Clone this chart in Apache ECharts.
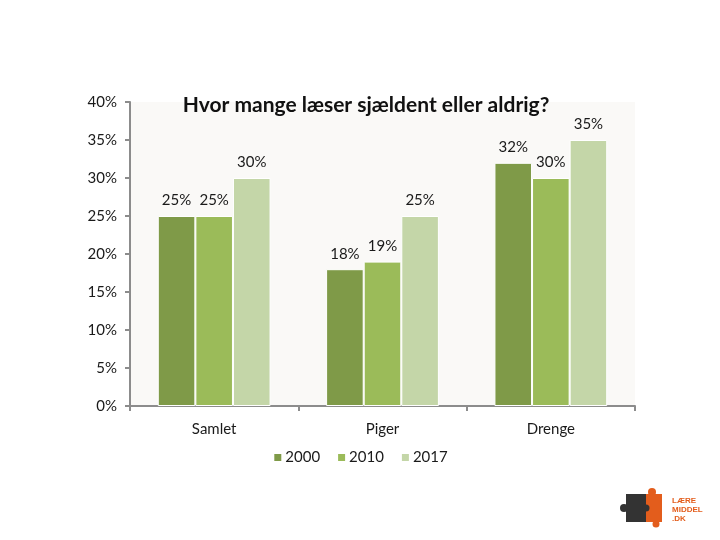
<!DOCTYPE html>
<html>
<head>
<meta charset="utf-8">
<script src="https://cdn.jsdelivr.net/npm/echarts@6/dist/echarts.min.js"></script>
<style>
  html, body { margin: 0; padding: 0; background: #fff; }
  #chart { width: 720px; height: 540px; }
</style>
</head>
<body>
<div id="chart"></div>
<script>
// kategorier og værdier (andel i %)
const categories = ['Samlet', 'Piger', 'Drenge']
const years = ['2000', '2010', '2017']
const values2000 = [25, 18, 32]
const values2010 = [25, 19, 30]
const values2017 = [30, 25, 35]
const yTicks = [0, 5, 10, 15, 20, 25, 30, 35, 40]

const colors = ['#7f9a48', '#9bbb59', '#c4d6a8']
const font = 'Lato, "Open Sans", sans-serif'

const chart = echarts.init(document.getElementById('chart'))

const makeSeries = (name, data, color) => ({
  name: name,
  type: 'bar',
  data: data,
  barGap: '0%',
  barCategoryGap: '33%',
  itemStyle: { color: color, borderColor: '#ffffff', borderWidth: 1 },
  label: {
    show: true,
    position: 'top',
    distance: 8,
    formatter: '{c}%',
    color: '#1a1a1a',
    fontFamily: font,
    fontSize: 15
  }
})

chart.setOption({
  animation: false,
  title: {
    text: 'Hvor mange læser sjældent eller aldrig?',
    left: 361,
    textAlign: 'center',
    top: 90,
    textStyle: { fontFamily: font, fontSize: 21, fontWeight: 'bold', color: '#111' }
  },
  legend: {
    data: years,
    bottom: 70,
    left: 'center',
    itemWidth: 9,
    itemHeight: 9,
    itemGap: 16,
    icon: 'rect',
    textStyle: { fontFamily: font, fontSize: 15, color: '#1a1a1a', padding: [0, 0, 0, -2] }
  },
  grid: {
    left: 130,
    right: 85,
    top: 102,
    bottom: 134,
    show: true,
    backgroundColor: '#faf9f7',
    borderWidth: 0
  },
  xAxis: {
    type: 'category',
    data: categories,
    axisLine: { lineStyle: { color: '#8c8c8c', width: 2 } },
    axisTick: { show: true, length: 5, lineStyle: { color: '#8c8c8c', width: 2 } },
    axisLabel: { fontFamily: font, fontSize: 15, color: '#1a1a1a', margin: 16 }
  },
  yAxis: {
    type: 'value',
    min: yTicks[0],
    max: yTicks[yTicks.length - 1],
    interval: 5,
    axisLine: { show: true, lineStyle: { color: '#8c8c8c', width: 2 } },
    axisTick: { show: true, length: 5, lineStyle: { color: '#8c8c8c', width: 2 } },
    splitLine: { show: false },
    axisLabel: { formatter: '{value}%', fontFamily: font, fontSize: 15, color: '#1a1a1a', margin: 13 }
  },
  series: [
    makeSeries(years[0], values2000, colors[0]),
    makeSeries(years[1], values2010, colors[1]),
    makeSeries(years[2], values2017, colors[2])
  ],
  // logo nederst til højre
  graphic: [
    { type: 'rect', shape: { x: 626, y: 494, width: 20, height: 28 }, style: { fill: '#333333' } },
    { type: 'circle', shape: { cx: 624, cy: 508, r: 4 }, style: { fill: '#333333' } },
    { type: 'rect', shape: { x: 646, y: 494, width: 16, height: 28 }, style: { fill: '#e35d1c' } },
    { type: 'circle', shape: { cx: 652, cy: 492, r: 4 }, style: { fill: '#e35d1c' } },
    { type: 'circle', shape: { cx: 656, cy: 524, r: 3.5 }, style: { fill: '#e35d1c' } },
    { type: 'circle', shape: { cx: 646, cy: 508, r: 3.5 }, style: { fill: '#333333' } },
    { type: 'text', x: 672, y: 496, style: { text: 'LÆRE\nMIDDEL\n.DK', fill: '#e35d1c', font: 'bold 8px "Liberation Sans", sans-serif', lineHeight: 9 } }
  ]
})
</script>
</body>
</html>
